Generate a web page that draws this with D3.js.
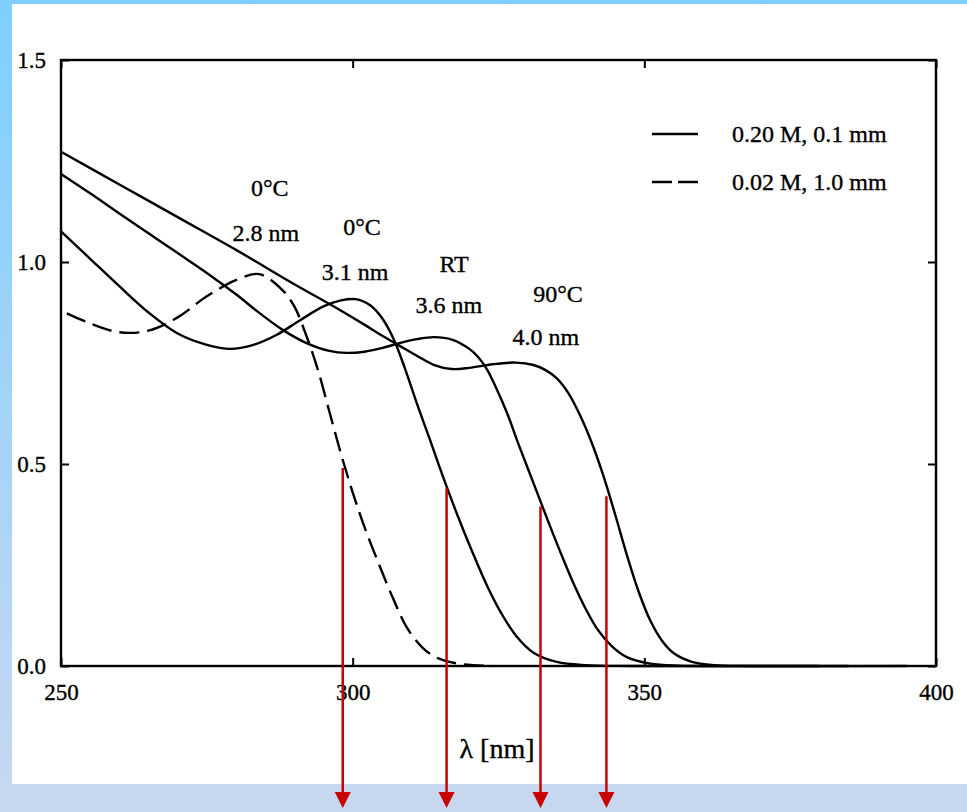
<!DOCTYPE html>
<html>
<head>
<meta charset="utf-8">
<script src="https://cdn.jsdelivr.net/npm/d3@7"></script>
<style>
  html, body { margin: 0; padding: 0; background: #fff; }
  svg { display: block; }
  text { font-family: "Liberation Serif", "Times New Roman", serif; fill: #000; stroke: #000; stroke-width: 0.35px; }
</style>
</head>
<body>
<svg id="chart" width="967" height="812"></svg>
<script>
// ---------------- data ----------------
const xTicks = [250, 300, 350, 400];
const yTicks = [0.0, 0.5, 1.0, 1.5];

// 0.02 M, 1.0 mm  (0°C, 2.8 nm) – dashed
const dashX = [251, 255, 260, 265, 270, 275, 280, 284, 288, 290, 292, 294, 296, 298, 300, 302, 304.7, 307, 309.3, 312, 314.5, 318, 324];
const dashY = [0.873, 0.848, 0.826, 0.830, 0.863, 0.915, 0.955, 0.970, 0.930, 0.890, 0.820, 0.735, 0.630, 0.525, 0.430, 0.345, 0.245, 0.165, 0.095, 0.045, 0.020, 0.006, 0.0];

// 0.20 M, 0.1 mm  (0°C, 3.1 nm)
const c31X = [250, 255, 260, 265, 270, 275, 279, 283, 287, 291, 295, 298, 300.5, 303, 305, 307, 309, 311, 313, 315.5, 318, 320.5, 323, 325.5, 328, 331, 335, 340, 348, 380];
const c31Y = [1.076, 1.008, 0.940, 0.875, 0.823, 0.795, 0.785, 0.795, 0.820, 0.856, 0.890, 0.905, 0.908, 0.893, 0.862, 0.810, 0.735, 0.650, 0.570, 0.468, 0.372, 0.283, 0.200, 0.130, 0.075, 0.033, 0.010, 0.002, 0.0, 0.0];

// 0.20 M, 0.1 mm  (RT, 3.6 nm)
const c36X = [250, 255, 260, 265, 270, 275, 280, 284, 288, 292, 296, 299, 302, 305, 308, 311, 314, 317, 320, 321.5, 323, 324.7, 326.5, 328.2, 330, 332, 334, 336, 338, 340, 342, 344.5, 347, 351, 356, 362, 385];
const c36Y = [1.218, 1.170, 1.120, 1.071, 1.022, 0.973, 0.920, 0.874, 0.832, 0.800, 0.780, 0.775, 0.778, 0.787, 0.799, 0.809, 0.814, 0.808, 0.785, 0.765, 0.735, 0.685, 0.625, 0.558, 0.490, 0.415, 0.340, 0.268, 0.200, 0.140, 0.090, 0.048, 0.022, 0.006, 0.001, 0.0, 0.0];

// 0.20 M, 0.1 mm  (90°C, 4.0 nm)
const c40X = [250, 260, 270, 280, 290, 297, 302, 305, 308, 311, 314, 317, 320, 324, 328, 331, 333, 335, 337, 339, 341, 343, 345, 347, 349, 351, 353, 355, 358, 362, 368, 395];
const c40Y = [1.273, 1.192, 1.111, 1.030, 0.945, 0.888, 0.845, 0.818, 0.793, 0.768, 0.745, 0.735, 0.738, 0.747, 0.751, 0.745, 0.733, 0.712, 0.675, 0.620, 0.552, 0.470, 0.375, 0.275, 0.185, 0.113, 0.063, 0.032, 0.011, 0.002, 0.0, 0.0];

// red arrows: wavelength and starting absorbance
const arrowX = [298.3, 316.1, 332.2, 343.5];
const arrowY = [0.49, 0.44, 0.395, 0.42];

// annotations
const annoText = ["0°C", "2.8 nm", "0°C", "3.1 nm", "RT", "3.6 nm", "90°C", "4.0 nm"];
const annoX    = [285.8, 285.1, 301.6, 300.4, 317.4, 316.5, 335.2, 333.1];
const annoY    = [1.163, 1.052, 1.067, 0.955, 0.975, 0.874, 0.901, 0.795];

const legendLabels = ["0.20 M, 0.1 mm", "0.02 M, 1.0 mm"];

// ---------------- layout ----------------
const svg = d3.select("#chart");
const W = 967, H = 812;

const defs = svg.append("defs");
const grad = defs.append("linearGradient").attr("id", "bg").attr("x1", 0).attr("y1", 0).attr("x2", 0).attr("y2", 1);
grad.append("stop").attr("offset", "0%").attr("stop-color", "#7ECFFF");
grad.append("stop").attr("offset", "100%").attr("stop-color", "#C8D7F0");

svg.append("rect").attr("x", 0).attr("y", 0).attr("width", W).attr("height", H).attr("fill", "url(#bg)");
svg.append("rect").attr("x", 0).attr("y", 784).attr("width", W).attr("height", H - 784).attr("fill", "#C8D7F0");
svg.append("rect").attr("x", 12).attr("y", 4).attr("width", W - 12).attr("height", 780).attr("fill", "#ffffff");

const mL = 61, mR = 936, mT = 60, mB = 666;
const x = d3.scaleLinear().domain([250, 400]).range([mL, mR]);
const y = d3.scaleLinear().domain([0, 1.5]).range([mB, mT]);

// frame
svg.append("rect").attr("x", mL).attr("y", mT).attr("width", mR - mL).attr("height", mB - mT)
  .attr("fill", "none").attr("stroke", "#000").attr("stroke-width", 2.4);

// axes (ticks inward)
const xAxisB = d3.axisBottom(x).tickValues(xTicks).tickSize(-8).tickPadding(18).tickFormat(d3.format("d"));
const xAxisT = d3.axisTop(x).tickValues(xTicks).tickSize(-8).tickFormat("");
const yAxisL = d3.axisLeft(y).tickValues(yTicks).tickSize(-8).tickPadding(15).tickFormat(d3.format(".1f"));
const yAxisR = d3.axisRight(y).tickValues(yTicks).tickSize(-8).tickFormat("");

function styleAxis(g) {
  g.select(".domain").remove();
  g.selectAll(".tick line").attr("stroke", "#000").attr("stroke-width", 2);
  g.selectAll(".tick text").attr("font-family", "Liberation Serif, serif").attr("font-size", 23).attr("fill", "#000");
}
svg.append("g").attr("transform", `translate(0,${mB})`).call(xAxisB).call(styleAxis);
svg.append("g").attr("transform", `translate(0,${mT})`).call(xAxisT).call(styleAxis);
svg.append("g").attr("transform", `translate(${mL},0)`).call(yAxisL).call(styleAxis);
svg.append("g").attr("transform", `translate(${mR},0)`).call(yAxisR).call(styleAxis);

// x-axis title
svg.append("text").attr("x", 497).attr("y", 758).attr("text-anchor", "middle").attr("font-size", 28).text("λ [nm]");

// curves
const line = d3.line().x(d => x(d[0])).y(d => y(d[1])).curve(d3.curveCatmullRom.alpha(0.5));
const series = [
  { xs: c31X, ys: c31Y, dash: null },
  { xs: c36X, ys: c36Y, dash: null },
  { xs: c40X, ys: c40Y, dash: null },
  { xs: dashX, ys: dashY, dash: "20,8" }
];
series.forEach(s => {
  svg.append("path")
    .datum(s.xs.map((v, i) => [v, s.ys[i]]))
    .attr("d", line)
    .attr("fill", "none")
    .attr("stroke", "#000")
    .attr("stroke-width", 2.4)
    .attr("stroke-dasharray", s.dash);
});

// annotations
svg.selectAll("text.anno").data(annoText).enter().append("text")
  .attr("class", "anno")
  .attr("x", (d, i) => x(annoX[i]))
  .attr("y", (d, i) => y(annoY[i]))
  .attr("text-anchor", "middle")
  .attr("font-size", 24)
  .text(d => d);

// legend
const lg = svg.append("g");
legendLabels.forEach((lab, i) => {
  const ly = 134 + i * 48;
  lg.append("line").attr("x1", 652).attr("x2", 698).attr("y1", ly).attr("y2", ly)
    .attr("stroke", "#000").attr("stroke-width", 2.4)
    .attr("stroke-dasharray", i === 1 ? "20,6" : null);
  lg.append("text").attr("x", 732).attr("y", ly + 8).attr("font-size", 24).text(lab);
});

// red arrows
const arrowBottom = 792, arrowTip = 808;
arrowX.forEach((ax, i) => {
  const px = x(ax);
  svg.append("line").attr("x1", px).attr("x2", px).attr("y1", y(arrowY[i])).attr("y2", arrowBottom + 2)
    .attr("stroke", "#C80000").attr("stroke-width", 2.5);
  svg.append("path")
    .attr("d", `M${px - 8},${arrowBottom} L${px + 8},${arrowBottom} L${px},${arrowTip} Z`)
    .attr("fill", "#C80000");
});
</script>
</body>
</html>
